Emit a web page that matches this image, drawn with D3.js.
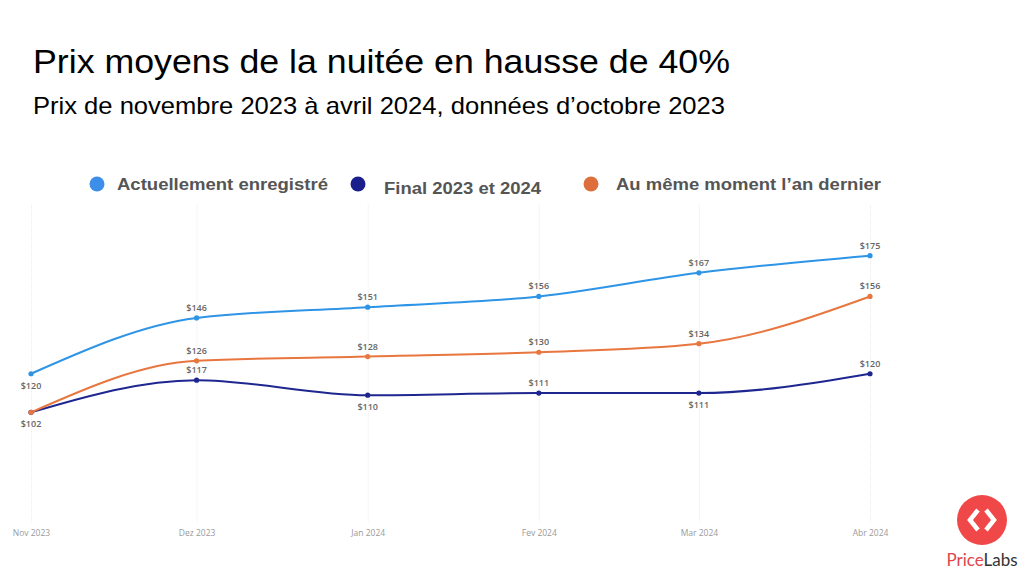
<!DOCTYPE html>
<html><head><meta charset="utf-8">
<script src="https://cdn.jsdelivr.net/npm/d3@7"></script>
<style>
html,body{margin:0;padding:0;background:#fff;}
svg{display:block;}
</style></head>
<body>
<svg id="c" width="1024" height="576"></svg>
<script>
// ---- data ----
const months = ["Nov 2023","Dez 2023","Jan 2024","Fev 2024","Mar 2024","Abr 2024"];
const monthDates = ["2023-11-01","2023-12-01","2024-01-01","2024-02-01","2024-03-01","2024-04-01"];
const seriesNames = ["Actuellement enregistré","Final 2023 et 2024","Au même moment l’an dernier"];
const actuel = [120,146,151,156,167,175];
const final2324 = [102,117,110,111,111,120];
const anDernier = [102,126,128,130,134,156];
// label placement per point: "a" above, "b" below, null hidden
const actuelLabelPos = ["b","a","a","a","a","a"];
const finalLabelPos = ["b","a","b","a","b","a"];
const anDernierLabelPos = [null,"a","a","a","a","a"];

const svg = d3.select("#c");
const parse = d3.timeParse("%Y-%m-%d");
const dates = monthDates.map(parse);

const x = d3.scaleTime().domain([dates[0], dates[dates.length-1]]).range([31, 870]);
const y = d3.scaleLinear().domain([50, 200]).range([524, 202]);

// title
svg.append("text").attr("x",33).attr("y",73)
  .attr("font-family","Liberation Sans, Arial, sans-serif").attr("font-size",34)
  .attr("fill","#000").attr("textLength",697).attr("lengthAdjust","spacingAndGlyphs")
  .text("Prix moyens de la nuitée en hausse de 40%");
svg.append("text").attr("x",33).attr("y",114)
  .attr("font-family","Liberation Sans, Arial, sans-serif").attr("font-size",24)
  .attr("fill","#000").attr("textLength",692).attr("lengthAdjust","spacingAndGlyphs")
  .text("Prix de novembre 2023 à avril 2024, données d’octobre 2023");

// legend
const legendColors = ["#3d8ee8","#1b1f8c","#dd6f3c"];
const legendX = [97, 358, 591];
const legendTextX = [117, 384, 616];
const legendTextY = [190, 194, 190];
const legendW = [211, 157, 265];
seriesNames.forEach((n,i)=>{
  svg.append("circle").attr("cx",legendX[i]).attr("cy",184).attr("r",7.5).attr("fill",legendColors[i]);
  svg.append("text").attr("x",legendTextX[i]).attr("y",legendTextY[i])
    .attr("font-family","Liberation Sans, Arial, sans-serif").attr("font-weight","bold")
    .attr("font-size",17).attr("fill","#555")
    .attr("textLength",legendW[i]).attr("lengthAdjust","spacingAndGlyphs")
    .text(n);
});

// grid + x axis
const gx = svg.append("g").attr("transform","translate(0,522)")
  .call(d3.axisBottom(x).tickValues(dates).tickSize(-318).tickFormat((d,i)=>months[i]));
gx.select(".domain").remove();
gx.selectAll(".tick line").attr("stroke","#ececec").attr("stroke-width",1).attr("stroke-dasharray","1,1");
gx.selectAll(".tick text").attr("y",8).attr("font-family","Open Sans, sans-serif")
  .attr("font-size",8.5).attr("fill","#9a9a9a");

// series
const lineColors = ["#2e94e6","#1e2690","#e8763f"];
const all = [
  {vals: final2324, color: lineColors[1], pos: finalLabelPos},
  {vals: anDernier, color: lineColors[2], pos: anDernierLabelPos},
  {vals: actuel, color: lineColors[0], pos: actuelLabelPos}
];
const line = d3.line().x((d,i)=>x(dates[i])).y(d=>y(d)).curve(d3.curveMonotoneX);
all.forEach(s=>{
  svg.append("path").datum(s.vals).attr("d",line).attr("fill","none")
    .attr("stroke",s.color).attr("stroke-width",2);
  svg.append("g").selectAll("circle").data(s.vals).join("circle")
    .attr("cx",(d,i)=>x(dates[i])).attr("cy",d=>y(d)).attr("r",2.6).attr("fill",s.color);
});
all.forEach(s=>{
  svg.append("g").selectAll("text").data(s.vals.map((v,i)=>({v,i,p:s.pos[i]})).filter(d=>d.p))
    .join("text")
    .attr("x",d=>x(dates[d.i])).attr("y",d=>y(d.v)+(d.p==="a"?-7:15))
    .attr("text-anchor","middle").attr("font-family","Open Sans, sans-serif")
    .attr("font-weight",600).attr("font-size",9).attr("fill","#666")
    .text(d=>"$"+d.v);
});

// logo
const logo = svg.append("g");
logo.append("circle").attr("cx",982).attr("cy",520).attr("r",25).attr("fill","#f04848");
logo.append("path").attr("d","M978,510 L970,520 L978,530").attr("fill","none").attr("stroke","#fff").attr("stroke-width",4.5);
logo.append("path").attr("d","M986,510 L994,520 L986,530").attr("fill","none").attr("stroke","#fff").attr("stroke-width",4.5);
const lt = logo.append("text").attr("x",982).attr("y",566).attr("text-anchor","middle")
  .attr("font-family","Lato, sans-serif").attr("font-size",17);
lt.append("tspan").attr("fill","#e0464a").text("Price");
lt.append("tspan").attr("fill","#333").text("Labs");
</script>
</body></html>
